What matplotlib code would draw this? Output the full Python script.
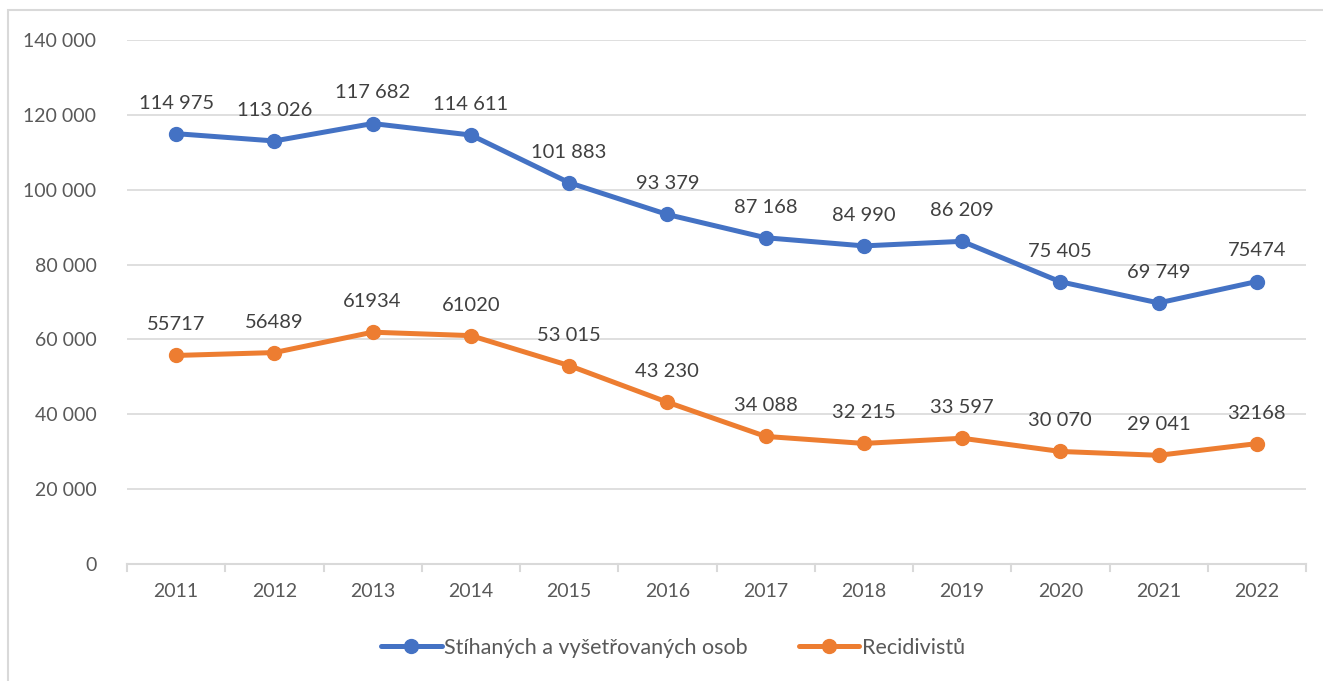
import matplotlib
matplotlib.use("Agg")
import matplotlib.pyplot as plt
from matplotlib.patches import Rectangle

years = ["2011", "2012", "2013", "2014", "2015", "2016", "2017", "2018", "2019", "2020", "2021", "2022"]
stihanych = [114975, 113026, 117682, 114611, 101883, 93379, 87168, 84990, 86209, 75405, 69749, 75474]
stihanych_labels = ["114 975", "113 026", "117 682", "114 611", "101 883", "93 379", "87 168", "84 990", "86 209", "75 405", "69 749", "75474"]
recidivistu = [55717, 56489, 61934, 61020, 53015, 43230, 34088, 32215, 33597, 30070, 29041, 32168]
recidivistu_labels = ["55717", "56489", "61934", "61020", "53 015", "43 230", "34 088", "32 215", "33 597", "30 070", "29 041", "32168"]
series_names = ["Stíhaných a vyšetřovaných osob", "Recidivistů"]
yticks = [0, 20000, 40000, 60000, 80000, 100000, 120000, 140000]
ytick_labels = ["0", "20 000", "40 000", "60 000", "80 000", "100 000", "120 000", "140 000"]

plt.rcParams['font.family'] = ['Lato', 'DejaVu Sans']
text_color = "#595959"
grid_color = "#D9D9D9"
blue = "#4472C4"
orange = "#ED7D31"

W, H = 1323, 681
fig = plt.figure(figsize=(W / 100, H / 100), dpi=100)
fig.patches.append(Rectangle((8 / W, -0.1), 1.2, 1 - 10 / H + 0.1, transform=fig.transFigure,
                             fill=False, edgecolor=grid_color, linewidth=1.5))

ax = fig.add_axes([127 / W, 1 - 564 / H, (1306 - 127) / W, (564 - 40) / H])
x = list(range(len(years)))
ax.set_xlim(-0.5, len(years) - 0.5)
ax.set_ylim(0, 140000)

for vals, labels, color, name in [(stihanych, stihanych_labels, blue, series_names[0]),
                                  (recidivistu, recidivistu_labels, orange, series_names[1])]:
    ax.plot(x, vals, color=color, linewidth=3.6, marker="o", markersize=10,
            solid_capstyle="round", label=name, zorder=3)
    for xi, v, lab in zip(x, vals, labels):
        ax.annotate(lab, (xi, v), xytext=(0, 22), textcoords="offset points",
                    ha="center", va="center", fontsize=14.5, color="#404040")

ax.set_yticks(yticks)
ax.set_yticklabels(ytick_labels)
ax.set_xticks(x)
ax.set_xticklabels(years)
ax.tick_params(axis="y", length=0, pad=22, labelsize=14, labelcolor=text_color)
ax.tick_params(axis="x", length=0, pad=14, labelsize=14, labelcolor=text_color)
ax.grid(axis="y", color=grid_color, linewidth=1.2)
ax.set_axisbelow(True)
for s in ["top", "right", "left"]:
    ax.spines[s].set_visible(False)
ax.spines["bottom"].set_color(grid_color)
ax.spines["bottom"].set_linewidth(1.5)
for b in [i - 0.5 for i in range(len(years) + 1)]:
    ax.plot([b, b], [0, -0.013], transform=ax.get_xaxis_transform(), color=grid_color,
            linewidth=1.5, clip_on=False)

leg = fig.legend(loc="center", bbox_to_anchor=(673 / W, 1 - 648 / H), ncol=2, frameon=False,
                 fontsize=15.5, handlelength=2.8, columnspacing=2.4, handletextpad=0.1)
for t in leg.get_texts():
    t.set_color(text_color)

fig.savefig("out.png", dpi=100)
